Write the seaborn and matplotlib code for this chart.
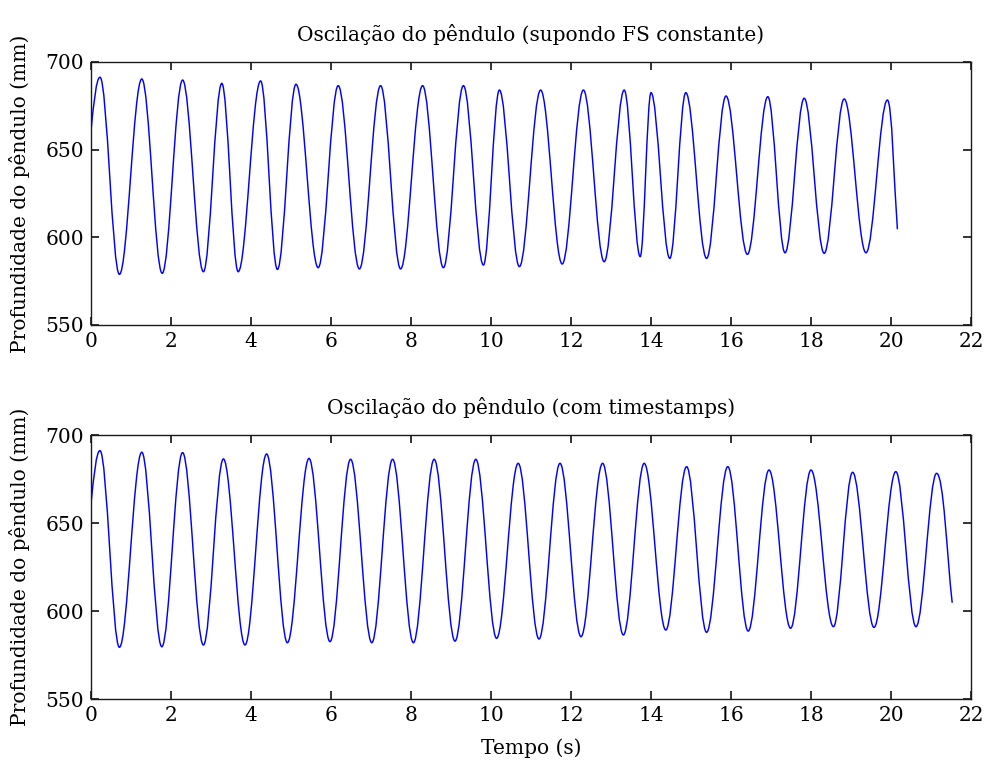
import numpy as np
import matplotlib
matplotlib.use("Agg")
import matplotlib.pyplot as plt
from matplotlib.path import Path
from matplotlib.patches import PathPatch
import seaborn as sns

# Turning points (start, alternating peak/trough, end)
top_t = [0.0, 0.225, 0.71, 1.27, 1.78, 2.29, 2.81, 3.27, 3.68, 4.24, 4.66, 5.125, 5.68,
         6.18, 6.71, 7.24, 7.74, 8.29, 8.81, 9.31, 9.81, 10.21, 10.71, 11.24, 11.78,
         12.31, 12.83, 13.33, 13.73, 14.0, 14.47, 14.87, 15.39, 15.875, 16.41, 16.92,
         17.35, 17.83, 18.33, 18.83, 19.375, 19.91, 20.16]
top_y = [661, 691.3, 578.9, 690.3, 579.5, 689.7, 580.4, 687.8, 580.4, 689.2, 581.7, 687.3, 582.7,
         686.5, 582.0, 686.5, 582.0, 686.5, 582.7, 686.5, 584.2, 684.0, 583.3, 684.0, 584.8,
         684.0, 586.1, 684.0, 589.0, 682.5, 588.0, 682.5, 588.0, 680.6, 590.3, 680.2,
         591.2, 679.3, 590.9, 678.9, 591.2, 678.3, 604.6]

bot_t = [0.0, 0.225, 0.71, 1.27, 1.77, 2.29, 2.81, 3.31, 3.85, 4.39, 4.91, 5.45, 5.975,
         6.49, 7.02, 7.54, 8.06, 8.58, 9.1, 9.62, 10.14, 10.68, 11.2, 11.725, 12.25,
         12.79, 13.31, 13.83, 14.37, 14.89, 15.39, 15.92, 16.43, 16.95, 17.49, 18.0,
         18.56, 19.04, 19.575, 20.12, 20.625, 21.14, 21.53]
bot_y = [661, 691.1, 579.4, 690.2, 579.7, 690.0, 580.7, 686.4, 580.7, 689.2, 582.0, 686.7, 582.6,
         686.2, 582.0, 686.2, 582.0, 686.2, 582.9, 686.2, 584.5, 683.9, 584.1, 683.9, 585.4,
         683.9, 586.4, 683.9, 589.2, 682.0, 587.9, 682.0, 588.6, 680.1, 590.2, 680.1,
         591.1, 678.8, 590.7, 679.2, 591.1, 678.2, 604.7]

titles = ["Oscilação do pêndulo (supondo FS constante)", "Oscilação do pêndulo (com timestamps)"]
ylabel = "Profundidade do pêndulo (mm)"
xlabel = "Tempo (s)"


def swing_path(t, y):
    # smooth half-swings between turning points (flat tangents at the extremes)
    a = 1 - 2 / np.pi
    verts = [(t[0], y[0])]
    codes = [Path.MOVETO]
    n = len(t)
    for i in range(1, n):
        t0, y0, t1, y1 = t[i - 1], y[i - 1], t[i], y[i]
        dt = t1 - t0
        if i == 1:
            c1 = (t0 + dt / 3, y0 + (y1 - y0) * 0.55)
            c2 = (t1 - dt * 0.4, y1)
        elif i == n - 1:
            c1 = (t0 + dt * 0.45, y0)
            c2 = (t1 - dt / 3, y1 + (y0 - y1) * 0.35)
        else:
            c1 = (t0 + a * dt, y0)
            c2 = (t1 - a * dt, y1)
        verts += [c1, c2, (t1, y1)]
        codes += [Path.CURVE4] * 3
    return Path(verts, codes)


sns.set_theme(style="ticks")
plt.rcParams["font.family"] = ["DejaVu Serif"]
plt.rcParams.update({
    "font.size": 14.5,
    "text.color": "black",
    "axes.labelcolor": "black",
    "axes.edgecolor": "#1a1a1a",
    "axes.linewidth": 1.0,
    "xtick.direction": "in",
    "ytick.direction": "in",
    "xtick.top": True,
    "ytick.right": True,
    "xtick.major.size": 6,
    "ytick.major.size": 6,
    "xtick.color": "#1a1a1a",
    "ytick.color": "#1a1a1a",
    "xtick.labelcolor": "black",
    "ytick.labelcolor": "black",
})

fig = plt.figure(figsize=(9.84, 7.63), dpi=100)
ax1 = fig.add_axes([91 / 984, 1 - 325 / 763, 880 / 984, 263 / 763])
ax2 = fig.add_axes([91 / 984, 1 - 699 / 763, 880 / 984, 264 / 763])

for ax, t, y, title in [(ax1, top_t, top_y, titles[0]), (ax2, bot_t, bot_y, titles[1])]:
    ax.add_patch(PathPatch(swing_path(t, y), fill=False, edgecolor="#0000ff", lw=1.05))
    ax.set_xlim(0, 22)
    ax.set_ylim(550, 700)
    ax.set_xticks(np.arange(0, 23, 2))
    ax.set_yticks([550, 600, 650, 700])
    ax.tick_params(labelsize=14.5)
    ax.tick_params(axis="x", pad=5)
    ax.tick_params(axis="y", pad=5)
    ax.set_title(title, fontsize=14.5, pad=15)
    ax.set_ylabel(ylabel, fontsize=14.5, labelpad=11)

ax2.set_xlabel(xlabel, fontsize=14.5, labelpad=10)

fig.savefig("out.png", dpi=100)
